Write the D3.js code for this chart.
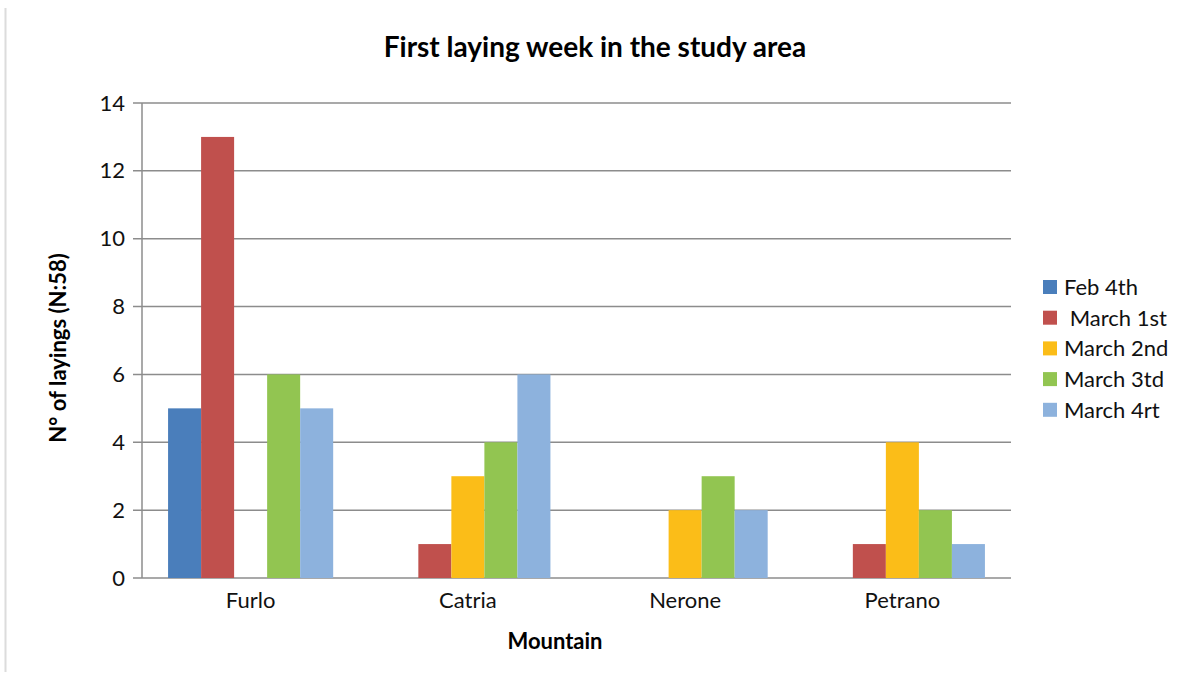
<!DOCTYPE html>
<html><head><meta charset="utf-8">
<script src="https://cdn.jsdelivr.net/npm/d3@7"></script>
<style>body{margin:0;background:#fff;}svg{display:block;font-family:Lato,"Open Sans",sans-serif;}</style>
</head><body>
<svg id="c" width="1179" height="681"></svg>
<script>
const categories = ["Furlo","Catria","Nerone","Petrano"];
const seriesNames = ["Feb 4th"," March 1st","March 2nd","March 3td","March 4rt"];
const feb4th   = [5, 0, 0, 0];
const march1st = [13, 1, 0, 1];
const march2nd = [0, 3, 2, 4];
const march3td = [6, 4, 3, 2];
const march4rt = [5, 6, 2, 1];
const yTicks = [0,2,4,6,8,10,12,14];
const colors = ["#4a7ebb","#c0504d","#fbbd18","#92c551","#8db2dd"];

const series = [feb4th, march1st, march2nd, march3td, march4rt];
const svg = d3.select("#c");
const L = 142, R = 1011, T = 103, B = 578;

svg.append("line").attr("x1",5.5).attr("x2",5.5).attr("y1",8).attr("y2",672)
  .attr("stroke","#dcdcdc").attr("stroke-width",2);

const x0 = d3.scaleBand().domain(categories).range([L,R]).paddingInner(0.24).paddingOuter(0.12);
const x1 = d3.scaleBand().domain(d3.range(series.length)).range([0,x0.bandwidth()]);
const y = d3.scaleLinear().domain([0,14]).range([B,T]);

// gridlines
svg.append("g").selectAll("line").data(yTicks).join("line")
  .attr("x1",133).attr("x2",R).attr("y1",d=>y(d)).attr("y2",d=>y(d))
  .attr("stroke","#8c8c8c").attr("stroke-width",1.5);

// bars
const data = [];
categories.forEach((c,i)=>series.forEach((s,j)=>{ if(s[i]>0) data.push({c,j,v:s[i]}); }));
svg.append("g").selectAll("rect").data(data).join("rect")
  .attr("x",d=>x0(d.c)+x1(d.j)).attr("width",x1.bandwidth())
  .attr("y",d=>y(d.v)).attr("height",d=>y(0)-y(d.v))
  .attr("fill",d=>colors[d.j]);

// y axis line
svg.append("line").attr("x1",L).attr("x2",L).attr("y1",T).attr("y2",B)
  .attr("stroke","#8c8c8c").attr("stroke-width",1.5);

// y tick labels
const ya = d3.axisLeft(y).tickValues(yTicks).tickSize(0).tickPadding(0);
const gy = svg.append("g").attr("transform",`translate(${125},0)`).call(ya);
gy.select(".domain").remove();
gy.selectAll("text").attr("font-size",22).attr("fill","#111").attr("font-family","Lato");

// x labels
const xa = d3.axisBottom(x0).tickSize(0).tickPadding(0);
const gx = svg.append("g").attr("transform",`translate(0,${592})`).call(xa);
gx.select(".domain").remove();
gx.selectAll("text").attr("font-size",22).attr("fill","#111").attr("font-family","Lato");

// title
svg.append("text").attr("x",595).attr("y",57).attr("text-anchor","middle")
  .attr("font-size",28).attr("font-weight","bold").attr("fill","#000").text("First laying week in the study area");
// axis titles
svg.append("text").attr("x",555).attr("y",649).attr("text-anchor","middle")
  .attr("font-size",22).attr("font-weight","bold").attr("fill","#000").text("Mountain");
svg.append("text").attr("transform","translate(66,348) rotate(-90)").attr("text-anchor","middle")
  .attr("font-size",22).attr("font-weight","bold").attr("fill","#000").text("N° of layings (N:58)");

// legend
const lg = svg.append("g").selectAll("g").data(seriesNames).join("g")
  .attr("transform",(d,i)=>`translate(1043,${280+i*30.7})`);
lg.append("rect").attr("width",14).attr("height",14).attr("fill",(d,i)=>colors[i]);
lg.append("text").attr("x",21).attr("y",15).attr("font-size",22).attr("fill","#111")
  .attr("xml:space","preserve").style("white-space","pre").text(d=>d);
</script>
</body></html>
